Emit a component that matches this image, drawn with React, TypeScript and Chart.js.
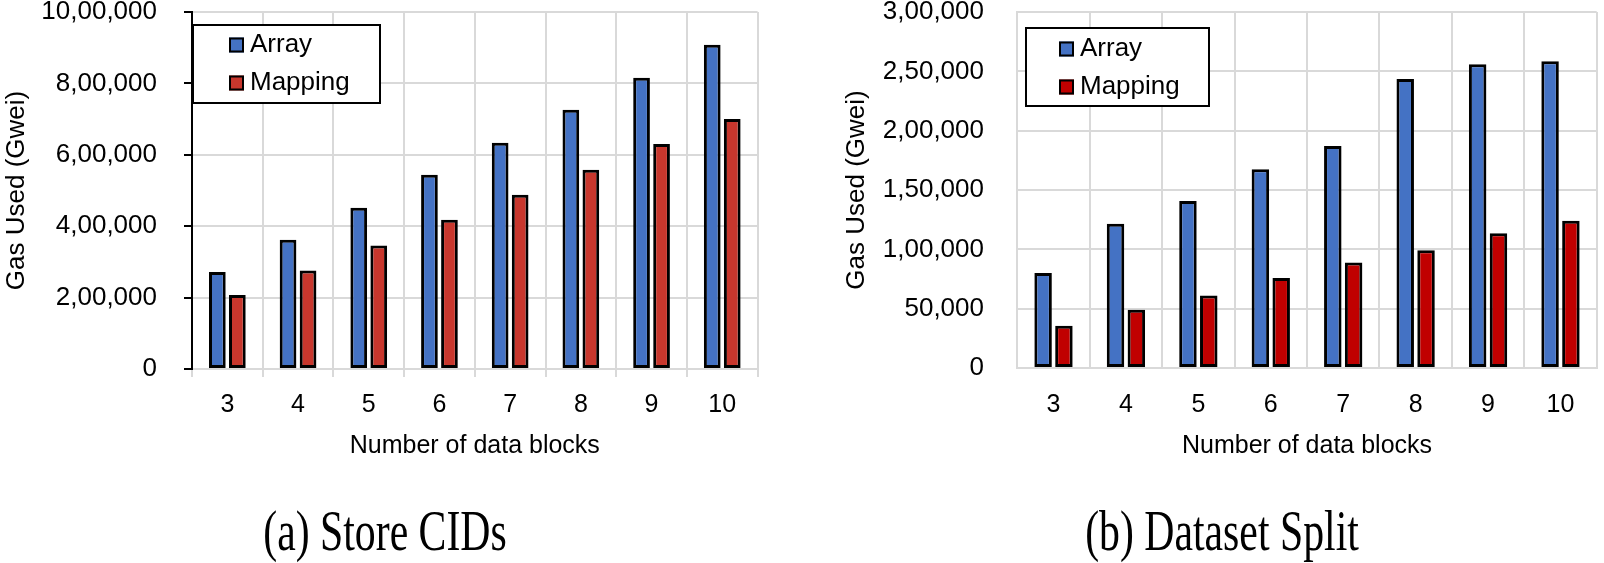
import React, { useEffect, useRef } from "react";
import { Chart, registerables } from "chart.js";

Chart.register(...registerables);

// ---------- data ----------
const categories = ["3", "4", "5", "6", "7", "8", "9", "10"];
const seriesLabels = ["Array", "Mapping"];

const storeArray = [272000, 362000, 452000, 544000, 634000, 726000, 816000, 908000];
const storeMapping = [207000, 276000, 346000, 418000, 488000, 558000, 630000, 700000];
const storeMax = 1000000;
const storeStep = 200000;

const splitArray = [80000, 121500, 140800, 167400, 187000, 243500, 256000, 258500];
const splitMapping = [35600, 49000, 61000, 75800, 89000, 99300, 113600, 124000];
const splitMax = 300000;
const splitStep = 50000;

const xTitle = "Number of data blocks";
const yTitle = "Gas Used (Gwei)";
const captionA = "(a) Store CIDs";
const captionB = "(b) Dataset Split";

// ---------- helpers ----------
const FONT = "'Liberation Sans', Arial, Helvetica, sans-serif";
const GRID = "#D9D9D9";

function indian(v: number): string {
  const s = Math.round(v).toString();
  if (s.length <= 3) return s;
  const last3 = s.slice(-3);
  let rest = s.slice(0, -3);
  const parts: string[] = [];
  while (rest.length > 2) {
    parts.unshift(rest.slice(-2));
    rest = rest.slice(0, -2);
  }
  if (rest) parts.unshift(rest);
  return parts.join(",") + "," + last3;
}

const boxLegend = {
  id: "boxLegend",
  afterDraw(chart: any, _args: any, opts: any) {
    const { ctx } = chart;
    const { x, y, w, h, markerX, textX, rowY, size, marker } = opts;
    ctx.save();
    ctx.fillStyle = "#fff";
    ctx.fillRect(x, y, w, h);
    ctx.lineWidth = 2;
    ctx.strokeStyle = "#000";
    ctx.strokeRect(x, y, w, h);
    chart.data.datasets.forEach((ds: any, i: number) => {
      const cy = rowY[i];
      ctx.fillStyle = ds.backgroundColor;
      ctx.fillRect(markerX, cy - marker / 2, marker, marker);
      ctx.lineWidth = 2;
      ctx.strokeStyle = "#000";
      ctx.strokeRect(markerX + 1, cy - marker / 2 + 1, marker - 2, marker - 2);
      ctx.fillStyle = "#000";
      ctx.font = `${size}px ${FONT}`;
      ctx.textBaseline = "middle";
      ctx.textAlign = "left";
      ctx.fillText(ds.label, textX, cy);
    });
    ctx.restore();
  },
};

interface Cfg {
  arr: number[];
  map: number[];
  mapColor: string;
  max: number;
  step: number;
  width: number;
  height: number;
  padRight: number;
  yWidth: number;
  xHeight: number;
  yTickPad: number;
  yTicks: boolean;
  yBorder: string;
  xTicks: boolean;
  xTickPad: number;
  yTitlePad: number;
  yTitleSize: number;
  catPct: number;
  barPct: number;
  legend: any;
}

function makeConfig(c: Cfg): any {
  return {
    type: "bar",
    data: {
      labels: categories,
      datasets: [
        {
          label: seriesLabels[0],
          data: c.arr,
          backgroundColor: "#4472C4",
          borderColor: "#000",
          borderWidth: 3,
          borderSkipped: false,
          categoryPercentage: c.catPct,
          barPercentage: c.barPct,
        },
        {
          label: seriesLabels[1],
          data: c.map,
          backgroundColor: c.mapColor,
          borderColor: "#000",
          borderWidth: 3,
          borderSkipped: false,
          categoryPercentage: c.catPct,
          barPercentage: c.barPct,
        },
      ],
    },
    options: {
      animation: false,
      responsive: false,
      maintainAspectRatio: false,
      devicePixelRatio: 1,
      layout: { padding: { left: 0, top: 12, right: c.padRight, bottom: 0 } },
      plugins: {
        legend: { display: false },
        tooltip: { enabled: false },
        boxLegend: c.legend,
      },
      scales: {
        x: {
          grid: {
            color: GRID,
            lineWidth: 2,
            offset: true,
            drawTicks: c.xTicks,
            tickLength: 8,
            tickColor: GRID,
          },
          border: { color: GRID, width: 2 },
          ticks: {
            color: "#000",
            font: { family: FONT, size: 25 },
            padding: c.xTickPad,
            maxRotation: 0,
          },
          title: {
            display: true,
            text: xTitle,
            color: "#000",
            font: { family: FONT, size: 25 },
            padding: { top: 0, bottom: 19 },
          },
          afterFit(s: any) {
            s.height = c.xHeight;
            s.paddingLeft = 0;
            s.paddingRight = 0;
          },
        },
        y: {
          min: 0,
          max: c.max,
          ticks: {
            stepSize: c.step,
            color: "#000",
            font: { family: FONT, size: 26 },
            padding: c.yTickPad,
            callback: (v: any) => indian(Number(v)),
          },
          grid: {
            color: GRID,
            lineWidth: 2,
            drawTicks: c.yTicks,
            tickLength: 8,
            tickColor: "#000",
            tickWidth: 2,
          },
          border: { color: c.yBorder, width: 2 },
          title: {
            display: true,
            text: yTitle,
            color: "#000",
            font: { family: FONT, size: c.yTitleSize },
            padding: { top: c.yTitlePad, bottom: 0 },
          },
          afterFit(s: any) {
            s.width = c.yWidth;
            s.paddingTop = 0;
            s.paddingBottom = 0;
          },
        },
      },
    },
    plugins: [boxLegend],
  };
}

const leftCfg: Cfg = {
  arr: storeArray,
  map: storeMapping,
  mapColor: "#C8372D",
  max: storeMax,
  step: storeStep,
  width: 780,
  height: 480,
  padRight: 22.4,
  yWidth: 192,
  xHeight: 111,
  yTickPad: 27,
  yTicks: true,
  yBorder: "#000",
  xTicks: true,
  xTickPad: 13,
  yTitlePad: 1,
  yTitleSize: 26,
  catPct: 0.566,
  barPct: 0.835,
  legend: { x: 193, y: 25, w: 187, h: 78, markerX: 229, textX: 250, rowY: [45, 83], size: 26, marker: 15 },
};

const rightCfg: Cfg = {
  arr: splitArray,
  map: splitMapping,
  mapColor: "#C00000",
  max: splitMax,
  step: splitStep,
  width: 804,
  height: 480,
  padRight: 7.3,
  yWidth: 217.3,
  xHeight: 112,
  yTickPad: 33.3,
  yTicks: false,
  yBorder: GRID,
  xTicks: false,
  xTickPad: 22,
  yTitlePad: 41,
  yTitleSize: 26,
  catPct: 0.575,
  barPct: 0.84,
  legend: { x: 226, y: 28, w: 183, h: 78, markerX: 259, textX: 280, rowY: [49, 87], size: 26, marker: 15 },
};

function BarChart({ cfg }: { cfg: Cfg }) {
  const ref = useRef<HTMLCanvasElement | null>(null);
  useEffect(() => {
    if (!ref.current) return;
    const chart = new Chart(ref.current, makeConfig(cfg));
    return () => chart.destroy();
  }, [cfg]);
  return (
    <canvas
      ref={ref}
      width={cfg.width}
      height={cfg.height}
      style={{ display: "block", width: cfg.width, height: cfg.height }}
    />
  );
}

const captionStyle = (cx: number, cy: number): React.CSSProperties => ({
  position: "absolute",
  left: cx,
  top: cy,
  transform: "translate(-50%, -50%) scaleX(0.72)",
  fontFamily: "'Liberation Serif', 'Times New Roman', serif",
  fontSize: 58,
  lineHeight: 1,
  whiteSpace: "nowrap",
  color: "#000",
});

export default function App() {
  return (
    <div
      style={{
        position: "fixed",
        left: 0,
        top: 0,
        width: 1604,
        height: 563,
        background: "#fff",
        overflow: "hidden",
      }}
    >
      <div style={{ position: "absolute", left: 0, top: 0 }}>
        <BarChart cfg={leftCfg} />
      </div>
      <div style={{ position: "absolute", left: 800, top: 0 }}>
        <BarChart cfg={rightCfg} />
      </div>
      <div style={captionStyle(385, 531)}>{captionA}</div>
      <div style={captionStyle(1222, 531)}>{captionB}</div>
    </div>
  );
}
